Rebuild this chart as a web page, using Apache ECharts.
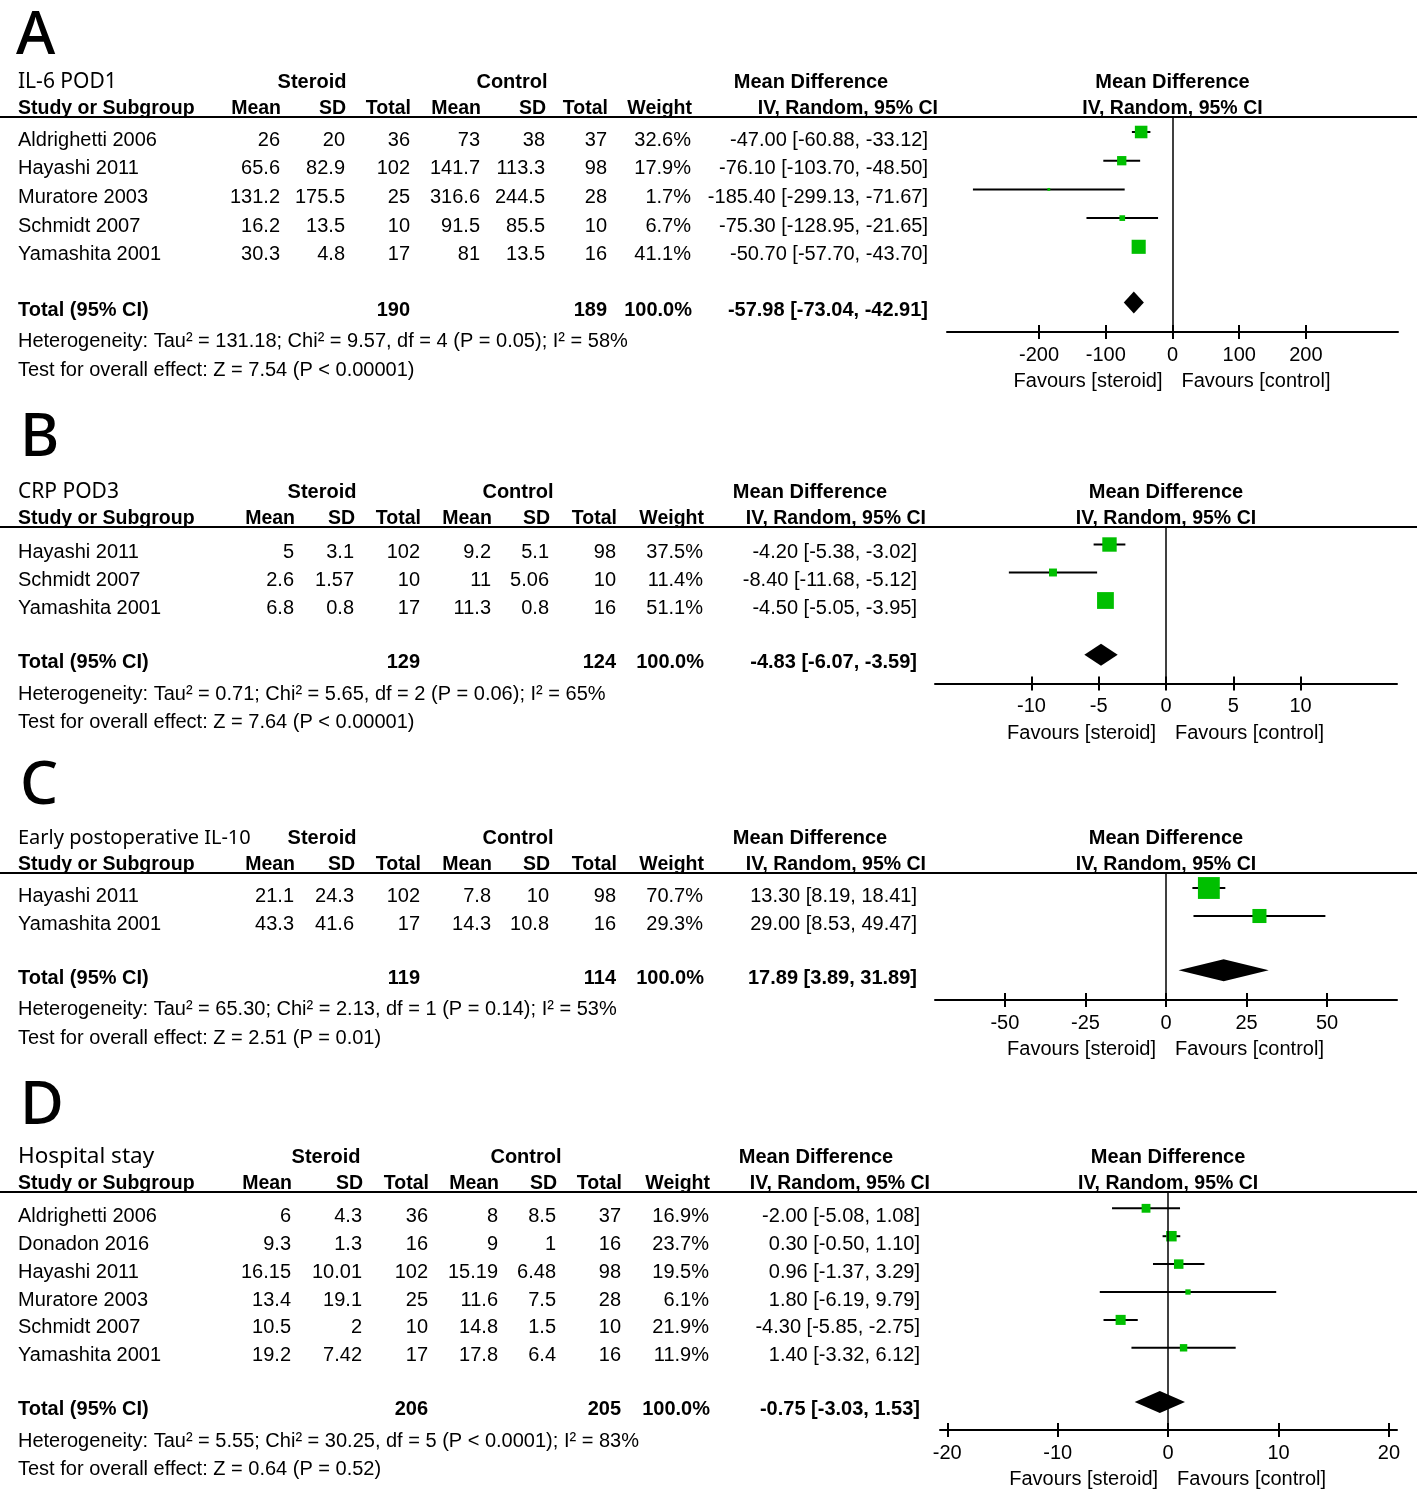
<!DOCTYPE html>
<html><head><meta charset="utf-8">
<script src="https://cdn.jsdelivr.net/npm/echarts@6/dist/echarts.min.js"></script>
<style>html,body{margin:0;padding:0;background:#fff}#c{width:1417px;height:1497px}</style>
</head><body><div id="c"></div>
<script>
// ---------- Panel A : IL-6 POD1 ----------
const aStudy = ['Aldrighetti 2006','Hayashi 2011','Muratore 2003','Schmidt 2007','Yamashita 2001'];
const aMean1 = [26, 65.6, 131.2, 16.2, 30.3];
const aSD1 = [20, 82.9, 175.5, 13.5, 4.8];
const aN1 = [36, 102, 25, 10, 17];
const aMean2 = [73, 141.7, 316.6, 91.5, 81];
const aSD2 = [38, 113.3, 244.5, 85.5, 13.5];
const aN2 = [37, 98, 28, 10, 16];
const aWeight = [32.6, 17.9, 1.7, 6.7, 41.1];
const aMD = [-47.00, -76.10, -185.40, -75.30, -50.70];
const aLo = [-60.88, -103.70, -299.13, -128.95, -57.70];
const aHi = [-33.12, -48.50, -71.67, -21.65, -43.70];
const aTotalN = [190, 189];
const aTotalMD = [-57.98, -73.04, -42.91];
const aHet = 'Heterogeneity: Tau² = 131.18; Chi² = 9.57, df = 4 (P = 0.05); I² = 58%';
const aTest = 'Test for overall effect: Z = 7.54 (P < 0.00001)';
const aTicks = [-200, -100, 0, 100, 200];

// ---------- Panel B : CRP POD3 ----------
const bStudy = ['Hayashi 2011','Schmidt 2007','Yamashita 2001'];
const bMean1 = [5, 2.6, 6.8];
const bSD1 = [3.1, 1.57, 0.8];
const bN1 = [102, 10, 17];
const bMean2 = [9.2, 11, 11.3];
const bSD2 = [5.1, 5.06, 0.8];
const bN2 = [98, 10, 16];
const bWeight = [37.5, 11.4, 51.1];
const bMD = [-4.20, -8.40, -4.50];
const bLo = [-5.38, -11.68, -5.05];
const bHi = [-3.02, -5.12, -3.95];
const bTotalN = [129, 124];
const bTotalMD = [-4.83, -6.07, -3.59];
const bHet = 'Heterogeneity: Tau² = 0.71; Chi² = 5.65, df = 2 (P = 0.06); I² = 65%';
const bTest = 'Test for overall effect: Z = 7.64 (P < 0.00001)';
const bTicks = [-10, -5, 0, 5, 10];

// ---------- Panel C : Early postoperative IL-10 ----------
const cStudy = ['Hayashi 2011','Yamashita 2001'];
const cMean1 = [21.1, 43.3];
const cSD1 = [24.3, 41.6];
const cN1 = [102, 17];
const cMean2 = [7.8, 14.3];
const cSD2 = [10, 10.8];
const cN2 = [98, 16];
const cWeight = [70.7, 29.3];
const cMD = [13.30, 29.00];
const cLo = [8.19, 8.53];
const cHi = [18.41, 49.47];
const cTotalN = [119, 114];
const cTotalMD = [17.89, 3.89, 31.89];
const cHet = 'Heterogeneity: Tau² = 65.30; Chi² = 2.13, df = 1 (P = 0.14); I² = 53%';
const cTest = 'Test for overall effect: Z = 2.51 (P = 0.01)';
const cTicks = [-50, -25, 0, 25, 50];

// ---------- Panel D : Hospital stay ----------
const dStudy = ['Aldrighetti 2006','Donadon 2016','Hayashi 2011','Muratore 2003','Schmidt 2007','Yamashita 2001'];
const dMean1 = [6, 9.3, 16.15, 13.4, 10.5, 19.2];
const dSD1 = [4.3, 1.3, 10.01, 19.1, 2, 7.42];
const dN1 = [36, 16, 102, 25, 10, 17];
const dMean2 = [8, 9, 15.19, 11.6, 14.8, 17.8];
const dSD2 = [8.5, 1, 6.48, 7.5, 1.5, 6.4];
const dN2 = [37, 16, 98, 28, 10, 16];
const dWeight = [16.9, 23.7, 19.5, 6.1, 21.9, 11.9];
const dMD = [-2.00, 0.30, 0.96, 1.80, -4.30, 1.40];
const dLo = [-5.08, -0.50, -1.37, -6.19, -5.85, -3.32];
const dHi = [1.08, 1.10, 3.29, 9.79, -2.75, 6.12];
const dTotalN = [206, 205];
const dTotalMD = [-0.75, -3.03, 1.53];
const dHet = 'Heterogeneity: Tau² = 5.55; Chi² = 30.25, df = 5 (P < 0.0001); I² = 83%';
const dTest = 'Test for overall effect: Z = 0.64 (P = 0.52)';
const dTicks = [-20, -10, 0, 10, 20];

const titles = ['IL-6 POD1', 'CRP POD3', 'Early postoperative IL-10', 'Hospital stay'];
const letters = ['A', 'B', 'C', 'D'];

// ---------- layout (pixels) ----------
const layouts = [
  {letterX:16, letterY:37, titleSize:21, lineY:117, rowY0:132, s:28.7, axisY:332, xLeft:947, xRight:1398, xMin:-338, xMax:338,
   cols:[280,345,410,480,545,607,691], ciH:938, ci:928, steroidX:312, controlX:512, mdX:811, k:2.2},
  {letterX:20, letterY:439, titleSize:21, lineY:527, rowY0:544.5, s:28, axisY:683.5, xLeft:935, xRight:1397, xMin:-17.17, xMax:17.17,
   cols:[294,354,420,491,549,616,703], ciH:926, ci:917, steroidX:322, controlX:518, mdX:810, k:2.35},
  {letterX:20, letterY:787, titleSize:20, lineY:873, rowY0:888, s:28, axisY:1000, xLeft:935, xRight:1397, xMin:-71.7, xMax:71.7,
   cols:[294,354,420,491,549,616,703], ciH:926, ci:917, steroidX:322, controlX:518, mdX:810, k:2.6},
  {letterX:20, letterY:1107, titleSize:22.5, lineY:1192, rowY0:1208.3, s:27.9, axisY:1430, xLeft:940, xRight:1397, xMin:-20.66, xMax:20.73,
   cols:[291,362,428,498,556,621,709], ciH:930, ci:920, steroidX:326, controlX:526, mdX:816, k:2.15}
];

const panels = [
  {study:aStudy, m1:aMean1, sd1:aSD1, n1:aN1, m2:aMean2, sd2:aSD2, n2:aN2, w:aWeight, md:aMD, lo:aLo, hi:aHi, tn:aTotalN, tmd:aTotalMD, het:aHet, test:aTest, ticks:aTicks},
  {study:bStudy, m1:bMean1, sd1:bSD1, n1:bN1, m2:bMean2, sd2:bSD2, n2:bN2, w:bWeight, md:bMD, lo:bLo, hi:bHi, tn:bTotalN, tmd:bTotalMD, het:bHet, test:bTest, ticks:bTicks},
  {study:cStudy, m1:cMean1, sd1:cSD1, n1:cN1, m2:cMean2, sd2:cSD2, n2:cN2, w:cWeight, md:cMD, lo:cLo, hi:cHi, tn:cTotalN, tmd:cTotalMD, het:cHet, test:cTest, ticks:cTicks},
  {study:dStudy, m1:dMean1, sd1:dSD1, n1:dN1, m2:dMean2, sd2:dSD2, n2:dN2, w:dWeight, md:dMD, lo:dLo, hi:dHi, tn:dTotalN, tmd:dTotalMD, het:dHet, test:dTest, ticks:dTicks}
];

const FF = '"Liberation Sans", Arial, sans-serif';
const REG = '20px ' + FF;
const BOLD = 'bold 20px ' + FF;
const HDR = 'bold 19.5px ' + FF;
const TEXT_OFF = 8;   // table text baseline offset from mark row
const YS = 2;         // general text vertical shift
const TOTAL_GAP = 0.94;
const GREEN = '#00bf00';

const grids = [], xAxes = [], yAxes = [], series = [], graphics = [];

function txt(x, y, text, font, align) {
  graphics.push({type:'text', x:x, y:y, silent:true,
    style:{text:String(text), font:font, fill:'#000', textAlign:align || 'left', textVerticalAlign:'middle'}});
}
function fmtCI(m, l, h) { return m.toFixed(2) + ' [' + l.toFixed(2) + ', ' + h.toFixed(2) + ']'; }

panels.forEach(function (p, i) {
  const L = layouts[i];
  const n = p.study.length;
  const yMin = (L.lineY - L.rowY0) / L.s;
  const yMax = (L.axisY - L.rowY0) / L.s;
  const zeroX = L.xLeft + (0 - L.xMin) / (L.xMax - L.xMin) * (L.xRight - L.xLeft);

  grids.push({left:L.xLeft, top:L.lineY, width:L.xRight - L.xLeft, height:L.axisY - L.lineY});
  xAxes.push({gridIndex:i, type:'value', min:L.xMin, max:L.xMax, position:'bottom',
    axisLine:{show:true, onZero:false, lineStyle:{color:'#000', width:2}},
    axisTick:{show:true, inside:false, length:7, lineStyle:{color:'#000', width:2}, customValues:p.ticks},
    axisLabel:{show:true, customValues:p.ticks, fontSize:20, color:'#000', fontFamily:'"Liberation Sans", Arial', margin:13},
    splitLine:{show:false}});
  xAxes.push({gridIndex:i, type:'value', min:L.xMin, max:L.xMax, position:'bottom', offset:0,
    axisLine:{show:false, onZero:false},
    axisTick:{show:true, inside:true, length:7, lineStyle:{color:'#000', width:2}, customValues:p.ticks},
    axisLabel:{show:false}, splitLine:{show:false}});
  yAxes.push({gridIndex:i, type:'value', inverse:true, min:yMin, max:yMax, show:false});

  const k = L.k;
  series.push({
    type:'custom', xAxisIndex:2 * i, yAxisIndex:i, silent:true, animation:false,
    data:p.md.map(function (m, j) { return [m, j, p.lo[j], p.hi[j], p.w[j]]; }),
    encode:{x:[0, 2, 3], y:1},
    renderItem:function (params, api) {
      const c = api.coord([api.value(0), api.value(1)]);
      const l = api.coord([api.value(2), api.value(1)]);
      const h = api.coord([api.value(3), api.value(1)]);
      const sz = k * Math.sqrt(api.value(4));
      return {type:'group', children:[
        {type:'line', shape:{x1:l[0], y1:c[1], x2:h[0], y2:c[1]}, style:{stroke:'#000', lineWidth:2}},
        {type:'rect', shape:{x:c[0] - sz / 2, y:c[1] - sz / 2, width:sz, height:sz}, style:{fill:GREEN}}
      ]};
    },
    markLine:{silent:true, symbol:['none', 'none'], label:{show:false},
      lineStyle:{color:'#000', width:1.5, type:'solid'}, data:[{xAxis:0}]}
  });
  series.push({
    type:'custom', xAxisIndex:2 * i, yAxisIndex:i, silent:true, animation:false,
    data:[[p.tmd[0], n + TOTAL_GAP, p.tmd[1], p.tmd[2]]],
    encode:{x:[0, 2, 3], y:1},
    renderItem:function (params, api) {
      const c = api.coord([api.value(0), api.value(1)]);
      const l = api.coord([api.value(2), api.value(1)]);
      const h = api.coord([api.value(3), api.value(1)]);
      const hh = 11;
      return {type:'polygon', shape:{points:[[l[0], c[1]], [c[0], c[1] - hh], [h[0], c[1]], [c[0], c[1] + hh]]},
        style:{fill:'#000'}};
    }
  });

  // ----- text -----
  graphics.push({type:'text', x:L.letterX, y:L.letterY, silent:true,
    style:{text:letters[i], font:'500 60px "Noto Sans", sans-serif', fill:'#000', textAlign:'left', textVerticalAlign:'middle'}});
  const h1 = L.lineY - 37 + YS, h2 = L.lineY - 10 + YS;
  txt(18, h1, titles[i], L.titleSize + 'px "Noto Sans", sans-serif', 'left');
  txt(L.steroidX, h1, 'Steroid', BOLD, 'center');
  txt(L.controlX, h1, 'Control', BOLD, 'center');
  txt(L.mdX, h1, 'Mean Difference', BOLD, 'center');
  txt(zeroX, h1, 'Mean Difference', BOLD, 'center');
  txt(18, h2, 'Study or Subgroup', HDR, 'left');
  const hdr = ['Mean', 'SD', 'Total', 'Mean', 'SD', 'Total', 'Weight'];
  hdr.forEach(function (t, j) { txt(L.cols[j] + 1, h2, t, HDR, 'right'); });
  txt(L.ciH, h2, 'IV, Random, 95% CI', HDR, 'right');
  txt(zeroX, h2, 'IV, Random, 95% CI', HDR, 'center');
  graphics.push({type:'line', silent:true, shape:{x1:0, y1:L.lineY, x2:1417, y2:L.lineY}, style:{stroke:'#000', lineWidth:2}});

  for (let j = 0; j < n; j++) {
    const y = L.rowY0 + j * L.s + TEXT_OFF;
    txt(18, y, p.study[j], REG, 'left');
    const vals = [p.m1[j], p.sd1[j], p.n1[j], p.m2[j], p.sd2[j], p.n2[j], p.w[j].toFixed(1) + '%'];
    vals.forEach(function (v, c) { txt(L.cols[c], y, v, REG, 'right'); });
    txt(L.ci, y, fmtCI(p.md[j], p.lo[j], p.hi[j]), REG, 'right');
  }
  const ty = L.rowY0 + (n + TOTAL_GAP) * L.s + TEXT_OFF;
  txt(18, ty, 'Total (95% CI)', BOLD, 'left');
  txt(L.cols[2], ty, p.tn[0], BOLD, 'right');
  txt(L.cols[5], ty, p.tn[1], BOLD, 'right');
  txt(L.cols[6] + 1, ty, '100.0%', BOLD, 'right');
  txt(L.ci, ty, fmtCI(p.tmd[0], p.tmd[1], p.tmd[2]), BOLD, 'right');
  txt(18, ty + 31.5, p.het, REG, 'left');
  txt(18, ty + 60, p.test, REG, 'left');

  const fy = L.axisY + 49.5;
  txt(zeroX - 10, fy, 'Favours [steroid]', REG, 'right');
  txt(zeroX + 9, fy, 'Favours [control]', REG, 'left');
});

const chart = echarts.init(document.getElementById('c'), null, {renderer:'canvas'});
chart.setOption({
  animation:false,
  backgroundColor:'#fff',
  grid:grids, xAxis:xAxes, yAxis:yAxes, series:series, graphic:graphics
});
</script>
</body></html>
